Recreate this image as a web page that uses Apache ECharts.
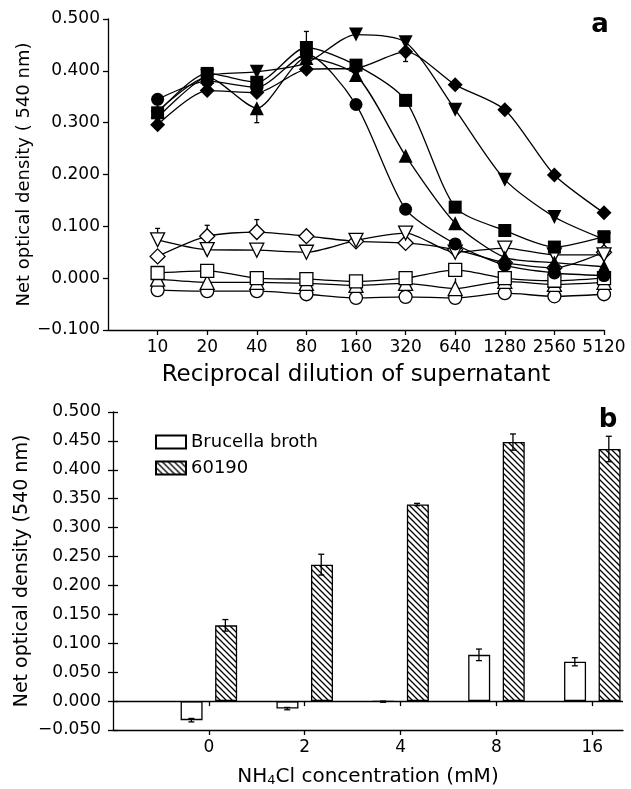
<!DOCTYPE html>
<html>
<head>
<meta charset="utf-8">
<script src="https://cdn.jsdelivr.net/npm/echarts@6/dist/echarts.min.js"></script>
<style>
  html, body { margin: 0; padding: 0; background: #fff; }
  #chart { width: 631px; height: 789px; }
</style>
</head>
<body>
<div id="chart"></div>
<script>
// panel a: reciprocal dilution of supernatant
const dilutions = ["10", "20", "40", "80", "160", "320", "640", "1280", "2560", "5120"];

const circleFilled = [0.345, 0.380, 0.368, 0.432, 0.335, 0.133, 0.066, 0.025, 0.010, 0.005];
const squareFilled = [0.319, 0.395, 0.378, 0.445, 0.411, 0.343, 0.137, 0.092, 0.060, 0.080];
const triangleFilled = [0.322, 0.388, 0.328, 0.425, 0.392, 0.236, 0.106, 0.040, 0.030, 0.022];
const invTriFilled = [0.310, 0.390, 0.398, 0.415, 0.470, 0.455, 0.325, 0.190, 0.118, 0.075];
const diamondFilled = [0.296, 0.362, 0.358, 0.403, 0.405, 0.437, 0.373, 0.325, 0.199, 0.126];

const circleOpen = [-0.023, -0.025, -0.025, -0.031, -0.038, -0.036, -0.038, -0.029, -0.035, -0.031];
const squareOpen = [0.010, 0.014, 0.000, -0.002, -0.006, 0.000, 0.016, 0.000, -0.005, 0.000];
const triangleOpen = [-0.002, -0.008, -0.008, -0.010, -0.014, -0.010, -0.020, -0.006, -0.012, -0.008];
const invTriOpen = [0.074, 0.055, 0.054, 0.050, 0.073, 0.087, 0.050, 0.058, 0.045, 0.045];
const diamondOpen = [0.042, 0.081, 0.089, 0.081, 0.071, 0.068, 0.055, 0.030, 0.020, 0.050];

// error bars in panel a: [dilution index (1-based), from, to]
const errA = [[1, 0.074, 0.096], [2, 0.081, 0.102], [3, 0.089, 0.113], [3, 0.328, 0.300], [4, 0.445, 0.476], [6, 0.455, 0.418]];

// panel b: NH4Cl concentration
const nh4cl = ["0", "2", "4", "8", "16"];
const brucella = [-0.033, -0.013, -0.001, 0.080, 0.068];
const brucellaErr = [0.003, 0.002, 0.001, 0.010, 0.007];
const strain60190 = [0.131, 0.236, 0.340, 0.448, 0.436];
const strain60190Err = [0.010, 0.018, 0.002, 0.014, 0.022];

const FONT = "DejaVu Sans";

function fmtY(v) {
  const r = Math.round(v * 1000) / 1000;
  return (r < 0 ? "\u2212" : "") + Math.abs(r).toFixed(3);
}

// hatch pattern for 60190 bars
function hatch() {
  const s = 6;
  const c = document.createElement("canvas");
  c.width = s; c.height = s;
  const g = c.getContext("2d");
  g.fillStyle = "#fff";
  g.fillRect(0, 0, s, s);
  g.strokeStyle = "#000";
  g.lineWidth = 1.3;
  g.beginPath();
  g.moveTo(-1, -1); g.lineTo(s + 1, s + 1);
  g.moveTo(-1, s - 1); g.lineTo(1, s + 1);
  g.moveTo(s - 1, -1); g.lineTo(s + 1, 1);
  g.stroke();
  return { image: c, repeat: "repeat" };
}

function lineSeries(name, data, symbol, filled, rotate, size) {
  return {
    name: name,
    type: "line",
    xAxisIndex: 0,
    yAxisIndex: 0,
    smooth: 0.25,
    symbol: symbol,
    symbolSize: size,
    symbolRotate: rotate || 0,
    showSymbol: true,
    z: filled ? 4 : 3,
    lineStyle: { color: "#000", width: 1.3 },
    itemStyle: filled
      ? { color: "#000", borderWidth: 0 }
      : { color: "#fff", borderColor: "#000", borderWidth: 1.3 },
    data: data.map((v, i) => [i + 1, v]),
  };
}

const axisLine = { show: true, onZero: false, lineStyle: { color: "#000", width: 1.3 } };
const tickStyle = { color: "#000", width: 1.3 };

const chart = echarts.init(document.getElementById("chart"));

const option = {
  animation: false,
  backgroundColor: "#fff",
  textStyle: { fontFamily: FONT, color: "#000" },
  graphic: [
    { type: "text", style: { x: 600, y: 25, text: "a", textAlign: "center", textVerticalAlign: "middle", font: "bold 26px " + FONT, fill: "#000" } },
    { type: "text", style: { x: 608, y: 420, text: "b", textAlign: "center", textVerticalAlign: "middle", font: "bold 26px " + FONT, fill: "#000" } },
  ],
  legend: {
    data: ["Brucella broth", "60190"],
    orient: "vertical",
    left: 150,
    top: 428,
    itemWidth: 30,
    itemHeight: 13,
    itemGap: 8,
    icon: "rect",
    textStyle: { fontSize: 18, fontFamily: FONT, color: "#000", lineHeight: 18 },
  },
  grid: [
    { left: 108, top: 19, width: 496, height: 311 },
    { left: 113, top: 412, width: 510, height: 318 },
  ],
  xAxis: [
    {
      gridIndex: 0,
      type: "value",
      min: 0,
      max: 10,
      interval: 1,
      axisLine: axisLine,
      axisTick: { show: true, length: 5, lineStyle: tickStyle, customValues: [1, 2, 3, 4, 5, 6, 7, 8, 9, 10] },
      axisLabel: {
        fontSize: 17, color: "#000", margin: 9,
        customValues: [1, 2, 3, 4, 5, 6, 7, 8, 9, 10],
        formatter: (v) => dilutions[Math.round(v) - 1] || "",
      },
      splitLine: { show: false },
      name: "Reciprocal dilution of supernatant",
      nameLocation: "middle",
      nameGap: 34,
      nameTextStyle: { fontSize: 23, color: "#000" },
    },
    {
      gridIndex: 0,
      type: "value",
      min: 0,
      max: 10,
      interval: 1,
      axisLine: { show: false },
      axisTick: { show: true, inside: true, length: 5, lineStyle: tickStyle, customValues: [1, 2, 3, 4, 5, 6, 7, 8, 9, 10] },
      axisLabel: { show: false },
      splitLine: { show: false },
    },
    {
      gridIndex: 1,
      type: "value",
      min: 0,
      max: 5.32,
      interval: 1,
      axisLine: axisLine,
      axisTick: { show: true, length: 5, lineStyle: tickStyle, customValues: [1, 2, 3, 4, 5] },
      axisLabel: {
        fontSize: 17, color: "#000", margin: 9,
        customValues: [1, 2, 3, 4, 5],
        formatter: (v) => nh4cl[Math.round(v) - 1] || "",
      },
      splitLine: { show: false },
      name: "{t|NH}{s|4}{t|Cl concentration (mM)}",
      nameLocation: "middle",
      nameGap: 36,
      nameTextStyle: {
        rich: {
          t: { fontSize: 20, fontFamily: FONT, color: "#000" },
          s: { fontSize: 13, fontFamily: FONT, color: "#000", verticalAlign: "bottom", padding: [8, 0, 0, 0] },
        },
      },
    },
    {
      gridIndex: 1,
      type: "value",
      min: 0,
      max: 5.32,
      interval: 1,
      axisLine: { show: false },
      axisTick: { show: true, inside: true, length: 5, lineStyle: tickStyle, customValues: [1, 2, 3, 4, 5] },
      axisLabel: { show: false },
      splitLine: { show: false },
    },
  ],
  yAxis: [
    {
      gridIndex: 0,
      type: "value",
      min: -0.1,
      max: 0.5,
      interval: 0.1,
      axisLine: axisLine,
      axisTick: { show: true, length: 5, lineStyle: tickStyle },
      axisLabel: { fontSize: 17, color: "#000", margin: 8, formatter: fmtY },
      splitLine: { show: false },
      name: "Net optical density ( 540 nm)",
      nameLocation: "middle",
      nameMoveOverlap: false,
      nameGap: 75,
      nameTextStyle: { fontSize: 18, color: "#000" },
    },
    {
      gridIndex: 1,
      type: "value",
      min: -0.05,
      max: 0.5,
      interval: 0.05,
      axisLine: axisLine,
      axisTick: { show: true, length: 5, lineStyle: tickStyle },
      axisLabel: { fontSize: 17, color: "#000", margin: 12, formatter: fmtY },
      splitLine: { show: false },
      name: "Net optical density (540 nm)",
      nameLocation: "middle",
      nameMoveOverlap: false,
      nameGap: 81,
      nameTextStyle: { fontSize: 19, color: "#000" },
    },
    {
      gridIndex: 1,
      type: "value",
      position: "left",
      min: -0.05,
      max: 0.5,
      interval: 0.05,
      axisLine: { show: false },
      axisTick: { show: true, inside: true, length: 5, lineStyle: tickStyle },
      axisLabel: { show: false },
      splitLine: { show: false },
    },
  ],
  series: [
    {
      name: "errA",
      type: "custom",
      xAxisIndex: 0,
      yAxisIndex: 0,
      z: 1,
      renderItem: (params, api) => {
        const a = api.coord([api.value(0), api.value(1)]);
        const b = api.coord([api.value(0), api.value(2)]);
        const st = { stroke: "#000", lineWidth: 1.3 };
        return {
          type: "group",
          children: [
            { type: "line", shape: { x1: a[0], y1: a[1], x2: b[0], y2: b[1] }, style: st },
            { type: "line", shape: { x1: b[0] - 2.5, y1: b[1], x2: b[0] + 2.5, y2: b[1] }, style: st },
          ],
        };
      },
      data: errA,
    },
    lineSeries("open circle", circleOpen, "circle", false, 0, 13),
    lineSeries("open triangle", triangleOpen, "triangle", false, 0, 14),
    lineSeries("open square", squareOpen, "rect", false, 0, 13),
    lineSeries("open diamond", diamondOpen, "diamond", false, 0, 15),
    lineSeries("open inverted triangle", invTriOpen, "triangle", false, 180, 14),
    lineSeries("filled diamond", diamondFilled, "diamond", true, 0, 15),
    lineSeries("filled inverted triangle", invTriFilled, "triangle", true, 180, 14),
    lineSeries("filled triangle", triangleFilled, "triangle", true, 0, 14),
    lineSeries("filled square", squareFilled, "rect", true, 0, 13),
    lineSeries("filled circle", circleFilled, "circle", true, 0, 13),
    {
      name: "Brucella broth",
      type: "bar",
      xAxisIndex: 2,
      yAxisIndex: 1,
      barWidth: 22,
      barGap: "57%",
      itemStyle: { color: "#fff", borderColor: "#000", borderWidth: 1.3 },
      data: brucella.map((v, i) => [i + 1, v]),
      markLine: {
        silent: true,
        symbol: ["none", "none"],
        label: { show: false },
        lineStyle: { color: "#000", type: "solid", width: 1.3 },
        data: [{ yAxis: 0 }],
      },
    },
    {
      name: "60190",
      type: "bar",
      xAxisIndex: 2,
      yAxisIndex: 1,
      barWidth: 22,
      barGap: "57%",
      itemStyle: { color: hatch(), borderColor: "#000", borderWidth: 1.3 },
      data: strain60190.map((v, i) => [i + 1, v]),
    },
    {
      name: "errB",
      type: "custom",
      xAxisIndex: 2,
      yAxisIndex: 1,
      z: 5,
      renderItem: (params, api) => {
        const x = api.value(0);
        const off = api.value(3) < 0 ? -17.5 : 16.5;
        const lo = api.coord([x, api.value(1)]);
        const hi = api.coord([x, api.value(2)]);
        const cx = lo[0] + off;
        const st = { stroke: "#000", lineWidth: 1.3 };
        return {
          type: "group",
          children: [
            { type: "line", shape: { x1: cx, y1: lo[1], x2: cx, y2: hi[1] }, style: st },
            { type: "line", shape: { x1: cx - 3, y1: lo[1], x2: cx + 3, y2: lo[1] }, style: st },
            { type: "line", shape: { x1: cx - 3, y1: hi[1], x2: cx + 3, y2: hi[1] }, style: st },
          ],
        };
      },
      data: brucella.map((v, i) => [i + 1, v - brucellaErr[i], v + brucellaErr[i], -1])
        .concat(strain60190.map((v, i) => [i + 1, v - strain60190Err[i], v + strain60190Err[i], 1])),
    },
  ],
};

chart.setOption(option);
window.addEventListener("resize", function () {
  chart.resize();
});
</script>
</body>
</html>
